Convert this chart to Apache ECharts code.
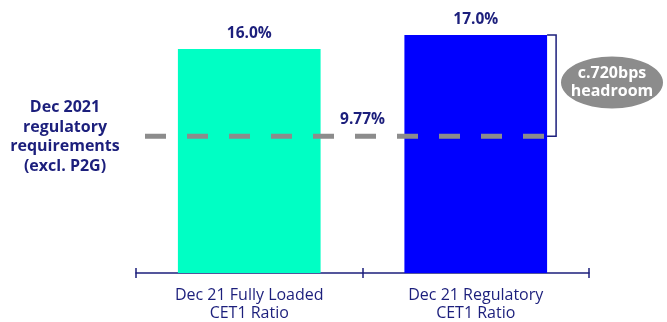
<!DOCTYPE html>
<html>
<head>
<meta charset="utf-8">
<script src="https://cdn.jsdelivr.net/npm/echarts@6/dist/echarts.min.js"></script>
<style>
  html, body { margin: 0; padding: 0; background: #ffffff; }
  #chart { width: 667px; height: 322px; }
</style>
</head>
<body>
<div id="chart"></div>
<script>
// data
var categories = ['Dec 21 Fully Loaded\nCET1 Ratio', 'Dec 21 Regulatory\nCET1 Ratio']
var ratios = [16.0, 17.0]
var barColors = ['#00ffc4', '#0000ff']
var requirement = 9.77
var requirementText = ['Dec 2021', 'regulatory', 'requirements', '(excl. P2G)']
var headroomText = 'c.720bps\nheadroom'

var NAVY = '#1c1f7c'
var GREY = '#8c8c8c'
var FONT = 'Open Sans'

var chart = echarts.init(document.getElementById('chart'))

var option = {
  animation: false,
  textStyle: { fontFamily: FONT },
  grid: { left: 136, right: 78, top: 35, bottom: 48 },
  xAxis: [
    {
      type: 'category',
      data: categories,
      axisLine: { lineStyle: { color: NAVY, width: 1.5 } },
      axisTick: { show: true, length: 5, lineStyle: { color: NAVY, width: 1.5 } },
      axisLabel: { color: NAVY, fontSize: 16, lineHeight: 18, margin: 13, fontFamily: FONT }
    },
    {
      // same axis, ticks drawn upward
      type: 'category',
      data: categories,
      position: 'bottom',
      axisLine: { show: false },
      axisTick: { show: true, inside: true, length: 5, lineStyle: { color: NAVY, width: 1.5 } },
      axisLabel: { show: false }
    }
  ],
  yAxis: {
    type: 'value',
    min: 0,
    max: 17,
    show: false,
    splitLine: { show: false }
  },
  series: [
    {
      type: 'bar',
      barWidth: '63%',
      data: ratios.map(function(v, i) {
        return { value: v, itemStyle: { color: barColors[i] } }
      }),
      label: {
        show: true,
        position: 'top',
        distance: 7,
        color: NAVY,
        fontSize: 15.5,
        fontWeight: 'bold',
        fontFamily: FONT,
        formatter: function(p) { return p.value.toFixed(1) + '%' }
      }
    }
  ]
}
chart.setOption(option)

// annotation layer, placed through the chart's own scales
var yLine = chart.convertToPixel({ yAxisIndex: 0 }, requirement)
var yTop = chart.convertToPixel({ yAxisIndex: 0 }, ratios[1])
var c0 = chart.convertToPixel({ xAxisIndex: 0 }, 0)
var c1 = chart.convertToPixel({ xAxisIndex: 0 }, 1)
var band = c1 - c0
var barRight = c1 + band * 0.63 / 2
var lineLeft = c0 - band / 2 + 9
var midY = (yTop + yLine) / 2 - 3

chart.setOption({
  graphic: [
    {
      type: 'line',
      shape: { x1: lineLeft, y1: yLine, x2: barRight, y2: yLine },
      style: { stroke: GREY, lineWidth: 5, lineDash: [21, 21] },
      z: 10
    },
    {
      type: 'text',
      x: (c0 + c1) / 2,
      y: yLine - 17,
      style: {
        text: requirement.toFixed(2) + '%',
        fill: NAVY,
        font: 'bold 15.5px "' + FONT + '"',
        align: 'center',
        verticalAlign: 'middle'
      },
      z: 10
    },
    {
      type: 'text',
      x: 65,
      y: 137,
      style: {
        text: requirementText.join('\n'),
        fill: NAVY,
        font: 'bold 16px "' + FONT + '"',
        lineHeight: 19.5,
        align: 'center',
        verticalAlign: 'middle'
      }
    },
    {
      type: 'polyline',
      shape: { points: [[barRight, yTop], [barRight + 9, yTop], [barRight + 9, yLine], [barRight, yLine]] },
      style: { stroke: NAVY, lineWidth: 1.5, fill: null },
      z: 10
    },
    {
      type: 'ellipse',
      shape: { cx: 612, cy: midY, rx: 51, ry: 26 },
      style: { fill: GREY },
      z: 10
    },
    {
      type: 'text',
      x: 612,
      y: midY,
      style: {
        text: headroomText,
        fill: '#ffffff',
        font: 'bold 16px "' + FONT + '"',
        lineHeight: 18,
        align: 'center',
        verticalAlign: 'middle'
      },
      z: 11
    }
  ]
})
</script>
</body>
</html>
